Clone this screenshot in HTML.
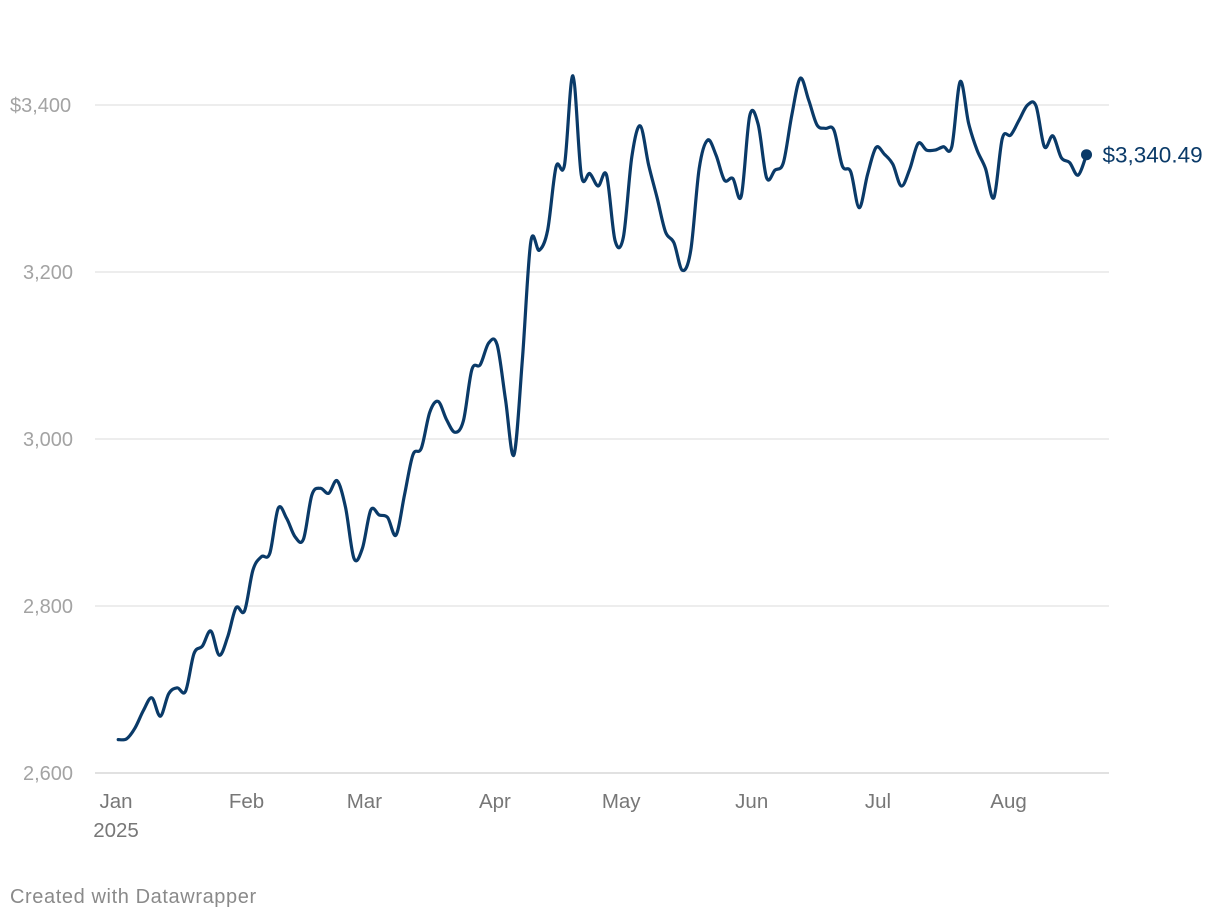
<!DOCTYPE html>
<html><head><meta charset="utf-8"><style>
html,body{margin:0;padding:0;background:#fff;}
svg{display:block;font-family:"Liberation Sans",sans-serif;}
</style></head><body>
<svg id="chart" width="1220" height="920" viewBox="0 0 1220 920" xmlns="http://www.w3.org/2000/svg">
<g id="grid"></g>
<g id="yl"></g>
<g id="xl"></g>
<path id="line" fill="none" stroke="#0a3a68" stroke-width="3.2" stroke-linejoin="round" stroke-linecap="round"/>
<circle id="dot" r="5.5" fill="#0a3a68"/>
<text id="lastlabel" font-size="22.5" fill="#0a3a68"></text>
<text x="10" y="903" font-size="20" letter-spacing="0.6" fill="#8a8a8a">Created with Datawrapper</text>
</svg>
<script>
const yTicks = [2600, 2800, 3000, 3200, 3400];
const yTickLabels = ["2,600", "2,800", "3,000", "3,200", "$3,400"];
const monthDays = [0, 31, 59, 90, 120, 151, 181, 212];
const monthLabels = ["Jan", "Feb", "Mar", "Apr", "May", "Jun", "Jul", "Aug"];
const days = [];
for (let d = 1; d <= 231; d += 2) days.push(d);
const values = [2640,2641,2654,2675,2690,2668,2695,2702,2698,2743,2752,2770,2741,2763,2798,2794,2843,2859,2863,2917,2905,2883,2880,2933,2941,2935,2950,2918,2857,2869,2915,2909,2906,2885,2933,2981,2989,3032,3045,3023,3008,3022,3083,3089,3115,3113,3047,2981,3095,3236,3226,3250,3326,3328,3435,3316,3318,3303,3316,3238,3242,3338,3375,3328,3289,3248,3235,3202,3226,3324,3358,3340,3310,3312,3291,3387,3377,3313,3322,3331,3388,3432,3406,3376,3372,3370,3327,3320,3277,3317,3349,3341,3329,3303,3323,3354,3346,3346,3350,3350,3428,3378,3346,3324,3289,3360,3364,3382,3400,3399,3350,3363,3337,3331,3316,3340.49];
const lastLabel = "$3,340.49";

const X = d => 114 + d * 4.21;
const Y = v => 773 - (v - 2600) * 0.835;
const NS = "http://www.w3.org/2000/svg";
const grid = document.getElementById('grid'), yl = document.getElementById('yl'), xl = document.getElementById('xl');
yTicks.forEach((t, i) => {
  const l = document.createElementNS(NS, 'line');
  
  
  l.setAttribute('x1', 95); l.setAttribute('x2', 1109);
  l.setAttribute('y1', Y(t)); l.setAttribute('y2', Y(t));
  l.setAttribute('stroke', i === 0 ? '#cfcfcf' : '#e2e2e2'); l.setAttribute('stroke-width', 1.3);
  grid.appendChild(l);
  const tx = document.createElementNS(NS, 'text');
  
  
  tx.setAttribute('x', i === yTicks.length - 1 ? 10 : 23); tx.setAttribute('y', Y(t) + 7);
  tx.setAttribute('font-size', 20); tx.setAttribute('fill', '#a3a3a3');
  tx.textContent = yTickLabels[i];
  yl.appendChild(tx);
});
monthDays.forEach((d, i) => {
  const tx = document.createElementNS(NS, 'text');
  
  
  tx.setAttribute('x', X(d) + 2); tx.setAttribute('y', 808);
  tx.setAttribute('text-anchor', 'middle');
  tx.setAttribute('font-size', 20.5); tx.setAttribute('fill', '#777');
  tx.textContent = monthLabels[i];
  xl.appendChild(tx);
});
const yr = document.createElementNS(NS, 'text');


yr.setAttribute('x', X(0) + 2); yr.setAttribute('y', 837);
yr.setAttribute('text-anchor', 'middle'); yr.setAttribute('font-size', 20.5); yr.setAttribute('fill', '#777');
yr.textContent = "2025";
xl.appendChild(yr);

const pts = days.map((d, i) => [X(d), Y(values[i])]);
let p = 'M' + pts[0][0] + ',' + pts[0][1];
for (let i = 0; i < pts.length - 1; i++) {
  const p0 = pts[Math.max(0, i - 1)], p1 = pts[i], p2 = pts[i + 1], p3 = pts[Math.min(pts.length - 1, i + 2)];
  const c1 = [p1[0] + (p2[0] - p0[0]) / 6, p1[1] + (p2[1] - p0[1]) / 6];
  const c2 = [p2[0] - (p3[0] - p1[0]) / 6, p2[1] - (p3[1] - p1[1]) / 6];
  p += ` C${c1[0]},${c1[1]} ${c2[0]},${c2[1]} ${p2[0]},${p2[1]}`;
}
document.getElementById('line').setAttribute('d', p);
const last = pts[pts.length - 1];
const dot = document.getElementById('dot');
dot.setAttribute('cx', last[0]); dot.setAttribute('cy', last[1]);
const ll = document.getElementById('lastlabel');
ll.setAttribute('x', last[0] + 16); ll.setAttribute('y', last[1] + 8);
ll.textContent = lastLabel;
</script>
</body></html>
